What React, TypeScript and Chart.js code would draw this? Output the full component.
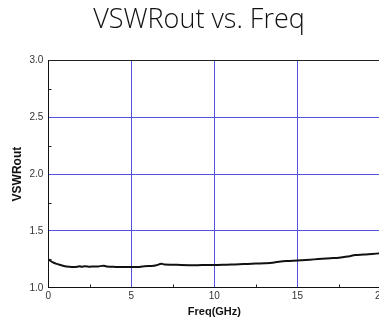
import React, { useEffect, useRef } from "react";
import { Chart, registerables } from "chart.js";

Chart.register(...registerables);

const freqGHz = [0, 0.1, 0.25, 0.5, 0.75, 1.0, 1.25, 1.5, 1.75, 1.9, 2.0, 2.2, 2.5, 2.75, 3.0, 3.3, 3.5, 4.0, 4.5, 5.0, 5.5, 5.8, 6.2, 6.5, 6.8, 7.0, 7.5, 8, 8.5, 9, 9.5, 10, 10.5, 11, 11.5, 12, 12.5, 13, 13.5, 14, 14.5, 15, 15.5, 16, 16.5, 17, 17.5, 18, 18.5, 19, 19.5, 20];
const vswrOut = [1.25, 1.24, 1.225, 1.21, 1.2, 1.19, 1.185, 1.182, 1.185, 1.19, 1.185, 1.19, 1.186, 1.188, 1.187, 1.195, 1.188, 1.184, 1.183, 1.182, 1.183, 1.19, 1.192, 1.198, 1.212, 1.205, 1.203, 1.2, 1.199, 1.199, 1.2, 1.2, 1.202, 1.205, 1.207, 1.21, 1.213, 1.216, 1.22, 1.232, 1.236, 1.24, 1.245, 1.25, 1.255, 1.26, 1.265, 1.275, 1.288, 1.292, 1.298, 1.303];
const xMinorTicks = [2.5, 7.5, 12.5, 17.5];
const yMinorTicks = [1.25, 1.75, 2.25, 2.75];

const GRID_BLUE = "#5252dc";

const frameAndTicks = {
  id: "frameAndTicks",
  afterDatasetsDraw(chart: any) {
    const { ctx, chartArea } = chart;
    const x = chart.scales.x;
    const y = chart.scales.y;
    ctx.save();
    ctx.strokeStyle = "#222";
    ctx.lineWidth = 1;
    ctx.beginPath();
    const l = Math.round(chartArea.left) + 0.5;
    const r = Math.round(chartArea.right) - 0.5;
    const t = Math.round(chartArea.top) + 0.5;
    const b = Math.round(chartArea.bottom) - 0.5;
    ctx.moveTo(l, t);
    ctx.lineTo(r, t);
    ctx.moveTo(r, t);
    ctx.lineTo(r, b);
    xMinorTicks.forEach((v) => {
      const px = Math.round(x.getPixelForValue(v)) + 0.5;
      ctx.moveTo(px, b);
      ctx.lineTo(px, b - 3);
    });
    yMinorTicks.forEach((v) => {
      const py = Math.round(y.getPixelForValue(v)) + 0.5;
      ctx.moveTo(l, py);
      ctx.lineTo(l + 3, py);
    });
    ctx.stroke();
    ctx.restore();
  },
};

export default function App() {
  const ref = useRef<HTMLCanvasElement | null>(null);
  useEffect(() => {
    document.body.style.margin = "0";
    const canvas = ref.current!;
    const chart = new Chart(canvas, {
      type: "line",
      data: {
        datasets: [
          {
            data: freqGHz.map((f, i) => ({ x: f, y: vswrOut[i] })),
            borderColor: "#111",
            borderWidth: 2,
            pointRadius: 0,
            tension: 0.3,
            fill: false,
          },
        ],
      },
      options: {
        animation: false,
        responsive: false,
        maintainAspectRatio: false,
        layout: { padding: { left: 10, right: 0, top: 0, bottom: 0 } },
        plugins: {
          legend: { display: false },
          tooltip: { enabled: false },
          title: {
            display: true,
            text: "VSWRout vs. Freq",
            color: "#111",
            font: { family: "'Open Sans', 'Noto Sans', sans-serif", size: 27, weight: "300" as any },
            padding: { top: 4, bottom: 24 },
          },
        },
        scales: {
          x: {
            type: "linear",
            min: 0,
            max: 20,
            ticks: {
              stepSize: 5,
              color: "#333",
              padding: 2,
              font: { family: "'Liberation Sans', Arial, sans-serif", size: 10 },
            },
            grid: {
              drawTicks: false,
              color: GRID_BLUE,
              lineWidth: 1,
            },
            border: { display: true, color: "#111", width: 1 },
            title: {
              display: true,
              text: "Freq(GHz)",
              color: "#111",
              font: { family: "'Liberation Sans', Arial, sans-serif", size: 11, weight: "bold" },
              padding: { top: 2, bottom: 0 },
            },
          },
          y: {
            type: "linear",
            min: 1,
            max: 3,
            ticks: {
              stepSize: 0.5,
              color: "#333",
              padding: 5,
              font: { family: "'Liberation Sans', Arial, sans-serif", size: 10 },
              callback: (v: any) => Number(v).toFixed(1),
            },
            grid: {
              drawTicks: false,
              color: GRID_BLUE,
              lineWidth: 1,
            },
            border: { display: true, color: "#111", width: 1 },
            title: {
              display: true,
              text: "VSWRout",
              color: "#111",
              font: { family: "'Liberation Sans', Arial, sans-serif", size: 12, weight: "bold" },
              padding: { top: 0, bottom: 0 },
            },
          },
        },
      },
      plugins: [frameAndTicks],
    });
    return () => chart.destroy();
  }, []);
  return (
    <div style={{ position: "absolute", left: 0, top: 0, width: 379, height: 319, overflow: "hidden", background: "#fff" }}>
      <canvas ref={ref} width={388} height={319} style={{ display: "block" }} />
    </div>
  );
}
